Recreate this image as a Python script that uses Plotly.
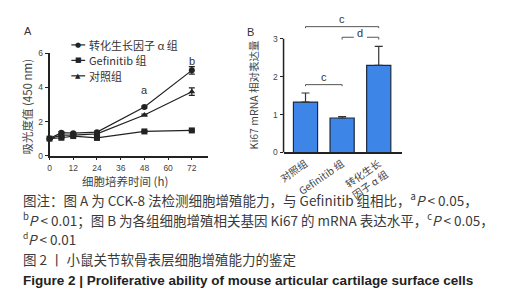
import plotly.graph_objects as go

# ---- Panel A data ----
hours = [0, 6, 12, 24, 48, 72]
tgf_vals = [1.0, 1.35, 1.32, 1.38, 2.85, 5.0]
tgf_err = [0.05, 0.06, 0.05, 0.05, 0.06, 0.22]
gef_vals = [1.0, 1.05, 1.15, 1.04, 1.42, 1.48]
gef_err = [0.04, 0.05, 0.05, 0.04, 0.05, 0.05]
ctl_vals = [1.0, 1.2, 1.2, 1.28, 2.38, 3.75]
ctl_err = [0.04, 0.05, 0.05, 0.05, 0.05, 0.22]
series_names = ["转化生长因子 α 组", "Gefinitib 组", "对照组"]
x_ticks_a = [0, 12, 24, 36, 48, 60, 72]
y_ticks_a = [0, 2, 4, 6]

# ---- Panel B data ----
groups_b = ["对照组", "Gefinitib 组", "转化生长<br>因子 α 组"]
ki67_vals = [1.33, 0.91, 2.3]
ki67_err = [0.24, 0.04, 0.5]
y_ticks_b = [0, 1, 2, 3]

fig = go.Figure()

font_cjk = "Noto Sans CJK SC, Noto Sans, sans-serif"
latin = "Liberation Sans, Arial, sans-serif"
dark = "#222222"

symbols = ["circle", "square", "triangle-up"]
glyphs = ["●", "■", "▲"]
for name, vals, err, sym in zip(series_names, [tgf_vals, gef_vals, ctl_vals],
                                [tgf_err, gef_err, ctl_err], symbols):
    fig.add_trace(go.Scatter(
        x=hours, y=vals, name=name, mode="lines+markers",
        line=dict(color=dark, width=1.2),
        marker=dict(symbol=sym, size=6, color=dark),
        error_y=dict(type="data", array=err, visible=True, color=dark, thickness=1.2, width=3),
        xaxis="x", yaxis="y", cliponaxis=False, showlegend=False,
    ))

fig.add_trace(go.Bar(
    x=[0, 1, 2], y=ki67_vals, width=0.66,
    marker=dict(color="#3d86e8", line=dict(color="#1c2a40", width=1.2)),
    error_y=dict(type="data", array=ki67_err, arrayminus=[0, 0, 0], visible=True,
                 color="#333333", thickness=1.2, width=4),
    xaxis="x2", yaxis="y2", showlegend=False,
))

axis_common = dict(showline=True, linecolor=dark, linewidth=1.5, ticks="outside",
                   ticklen=3, tickcolor=dark, showgrid=False, zeroline=False,
                   tickfont=dict(size=8.5, color="#444444", family=latin))

fig.update_layout(
    width=521, height=300, margin=dict(l=0, r=0, t=0, b=0),
    paper_bgcolor="white", plot_bgcolor="rgba(0,0,0,0)",
    font=dict(family=font_cjk, color="#444444"),
    showlegend=False,
    xaxis=dict(domain=[0.069, 0.376], range=[0, 80], tickvals=x_ticks_a, anchor="y", **axis_common),
    yaxis=dict(domain=[0.508, 0.861], range=[0, 6], tickvals=y_ticks_a, anchor="x", **axis_common),
    xaxis2=dict(domain=[0.5234, 0.7537], range=[-0.6, 2.64], tickvals=[0, 1, 2],
                ticktext=groups_b, tickangle=-35, anchor="y2",
                **{**axis_common, "ticks": "", "tickfont": dict(size=10, color="#444444", family=font_cjk)}),
    yaxis2=dict(domain=[0.519, 0.983], range=[0, 3.55], tickvals=y_ticks_b, anchor="x2",
                **{**axis_common, "showline": False}),
)

# manual y2 axis line (stops at 3 as in the reference)
fig.add_shape(type="line", xref="x2 domain", yref="y2", x0=0, x1=0, y0=0, y1=3,
              line=dict(color=dark, width=1.5))


def pap(x, y):
    return x / 521, 1 - y / 300


def add_text(text, x, y, size, xanchor="center", color="#444444", angle=0, bold=False, family=font_cjk):
    px, py = pap(x, y)
    fig.add_annotation(text=("<b>%s</b>" % text) if bold else text, x=px, y=py, xref="paper", yref="paper",
                       showarrow=False, xanchor=xanchor, yanchor="middle", textangle=angle, align="left",
                       font=dict(size=size, color=color, family=family))


# manual legend for panel A
for i, (name, g) in enumerate(zip(series_names, glyphs)):
    yy = 33 + 16 * i
    x0p, y0p = pap(58, yy)
    x1p, _ = pap(72, yy)
    fig.add_shape(type="line", xref="paper", yref="paper", x0=x0p, x1=x1p, y0=y0p, y1=y0p,
                  line=dict(color=dark, width=1.2))
    add_text(g, 65, yy, 7, color=dark, family="DejaVu Sans")
    add_text(name, 74, yy, 11, xanchor="left", color="#333333")

add_text("A", 14, 19, 11, color="#333333", family=latin)
add_text("B", 239, 20, 11, color="#333333", family=latin)
add_text("吸光度值 (450 nm)", 13, 97, 11.5, angle=-90)
add_text("细胞培养时间 (h)", 112, 174, 11.5)
add_text("Ki67 mRNA 相对表达量", 242, 85, 10.5, angle=-90)

# significance letters panel A
fig.add_annotation(text="a", x=48, y=3.85, xref="x", yref="y", showarrow=False,
                   font=dict(size=11, color="#333333", family=latin))
fig.add_annotation(text="b", x=72, y=5.55, xref="x", yref="y", showarrow=False,
                   font=dict(size=11, color="#333333", family=latin))

# significance brackets panel B
brackets = [(0, 2, 3.32, "c"), (1, 2, 3.04, "d"), (0, 1, 1.79, "c")]
for x0, x1, yv, lab in brackets:
    if lab == "d":
        mid = (x0 + x1) / 2
        for a, b in [(x0, mid - 0.18), (mid + 0.18, x1)]:
            fig.add_shape(type="line", x0=a, x1=b, y0=yv, y1=yv, xref="x2", yref="y2",
                          line=dict(color="#555555", width=1))
        for xe in [x0, x1]:
            fig.add_shape(type="line", x0=xe, x1=xe, y0=yv, y1=yv - 0.06, xref="x2", yref="y2",
                          line=dict(color="#555555", width=1))
        fig.add_annotation(text=lab, x=mid, y=yv + 0.1, xref="x2", yref="y2", showarrow=False,
                           font=dict(size=11, color="#333333", family=latin))
    else:
        fig.add_shape(type="line", x0=x0, x1=x1, y0=yv, y1=yv, xref="x2", yref="y2",
                      line=dict(color="#555555", width=1))
        for xe in [x0, x1]:
            fig.add_shape(type="line", x0=xe, x1=xe, y0=yv, y1=yv - 0.04, xref="x2", yref="y2",
                          line=dict(color="#555555", width=1))
        fig.add_annotation(text=lab, x=(x0 + x1) / 2, y=yv + 0.19, xref="x2", yref="y2", showarrow=False,
                           font=dict(size=11, color="#333333", family=latin))

# captions
cap_lines = [
    ("图注：图 A 为 CCK-8 法检测细胞增殖能力，与 Gefinitib 组相比，<sup>a</sup><i>P</i> < 0.05，", 192.5),
    ("<sup>b</sup><i>P</i> < 0.01；图 B 为各组细胞增殖相关基因 Ki67 的 mRNA 表达水平，<sup>c</sup><i>P</i> < 0.05，", 214),
    ("图 2 丨 小鼠关节软骨表层细胞增殖能力的鉴定", 254),
]
for t, y in cap_lines:
    add_text(t, 7, y, 13.5, xanchor="left", color="#3a3a3a")
# third caption line: superscript letter drawn as a small raised text
add_text("d", 7, 230, 8.5, xanchor="left", color="#3a3a3a")
add_text("<i>P</i> < 0.01", 12.5, 234, 13.5, xanchor="left", color="#3a3a3a")
add_text("Figure 2 | Proliferative ability of mouse articular cartilage surface cells", 7, 277, 13.5,
         xanchor="left", color="#222222", bold=True, family=latin)

fig.write_html("out.html")
